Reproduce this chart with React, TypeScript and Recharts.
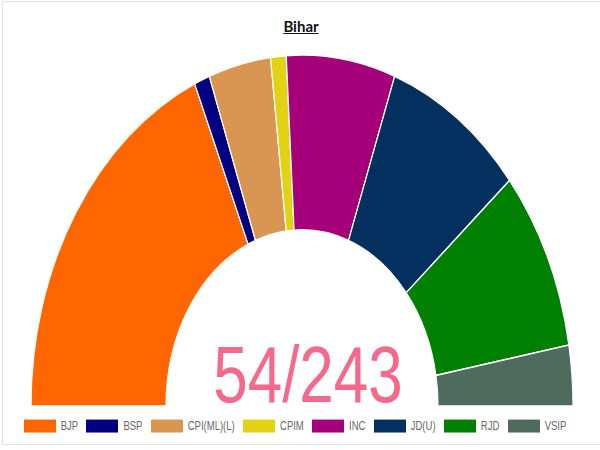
import { PieChart, Pie, Cell, Legend } from "recharts";

const PARTIES = ["BJP", "BSP", "CPI(ML)(L)", "CPIM", "INC", "JD(U)", "RJD", "VSIP"];
const SEATS = [20, 1, 4, 1, 7, 9, 9, 3];
const TOTAL_SEATS = 243;
const TITLE = "Bihar";

const PARTY_COLORS = [
  "#ff6600",
  "#000080",
  "#d99652",
  "#e3d214",
  "#a5007a",
  "#04305f",
  "#008000",
  "#4f6b5d",
];

// the reference arc is stretched vertically, so the whole chart is drawn
// in an unstretched box and scaled on Y
const STRETCH = 1.295;
const W = 600;
const H = 347;
const PIE_CX = 302;
const PIE_CY = 313.5;

const data = PARTIES.map((name, i) => ({
  name,
  value: SEATS[i],
  fill: PARTY_COLORS[i],
}));

const seated = SEATS.reduce((a, b) => a + b, 0);

function LegendContent(props: any) {
  const payload = props.payload || [];
  return (
    <div
      style={{
        display: "flex",
        justifyContent: "center",
        alignItems: "center",
        fontFamily: "'Liberation Sans', Arial, sans-serif",
        fontSize: 9.5,
        color: "#666",
      }}
    >
      {payload.map((entry: any, i: number) => (
        <div
          key={entry.value}
          style={{ display: "flex", alignItems: "center", marginRight: i < payload.length - 1 ? 8.3 : 0 }}
        >
          <span
            style={{
              display: "inline-block",
              width: 32,
              height: 10,
              background: PARTY_COLORS[PARTIES.indexOf(entry.value)] || entry.color,
              marginRight: 5,
            }}
          />
          <span style={{ lineHeight: "10px" }}>{entry.value}</span>
        </div>
      ))}
    </div>
  );
}

export default function App() {
  return (
    <div style={{ position: "absolute", top: 0, left: 0, width: 600, height: 450, background: "#fff" }}>
      <div
        style={{
          position: "absolute",
          left: 2,
          top: 1,
          width: 598,
          height: 444,
          boxSizing: "border-box",
          borderTop: "1px solid #e2e2e2",
          borderLeft: "1px solid #e2e2e2",
          borderBottom: "1px solid #e2e2e2",
        }}
      />
      <div
        style={{
          position: "absolute",
          top: 18.7,
          left: 0,
          width: 602,
          textAlign: "center",
          fontFamily: "Lato, sans-serif",
          fontWeight: 700,
          fontSize: 15,
          lineHeight: "15px",
          color: "#111",
          textDecoration: "underline",
        }}
      >
        {TITLE}
      </div>
      <div
        style={{
          position: "absolute",
          top: 0,
          left: 0,
          width: W,
          height: H,
          transform: `scaleY(${STRETCH})`,
          transformOrigin: "0 0",
        }}
      >
        <PieChart width={W} height={H} margin={{ top: 0, right: 0, bottom: 0, left: 0 }}>
          <Pie
            data={data}
            dataKey="value"
            nameKey="name"
            cx={PIE_CX}
            cy={PIE_CY}
            startAngle={180}
            endAngle={0}
            innerRadius={136}
            outerRadius={271}
            stroke="#fff"
            strokeWidth={1.2}
            isAnimationActive={false}
          >
            {data.map((d) => (
              <Cell key={d.name} fill={d.fill} />
            ))}
          </Pie>
          <Legend
            verticalAlign="bottom"
            content={<LegendContent />}
            wrapperStyle={{ position: "absolute", top: 324, left: -5, width: W, height: 10 }}
          />
        </PieChart>
        <svg
          width={W}
          height={H}
          style={{ position: "absolute", top: 0, left: 0, pointerEvents: "none" }}
        >
          <text
            x={PIE_CX + 6}
            y={PIE_CY - 3.3}
            textAnchor="middle"
            fill="#f5698b"
            fontSize={62}
            fontFamily="'Liberation Sans', Arial, sans-serif"
          >
            {`${seated}/${TOTAL_SEATS}`}
          </text>
        </svg>
      </div>
    </div>
  );
}
